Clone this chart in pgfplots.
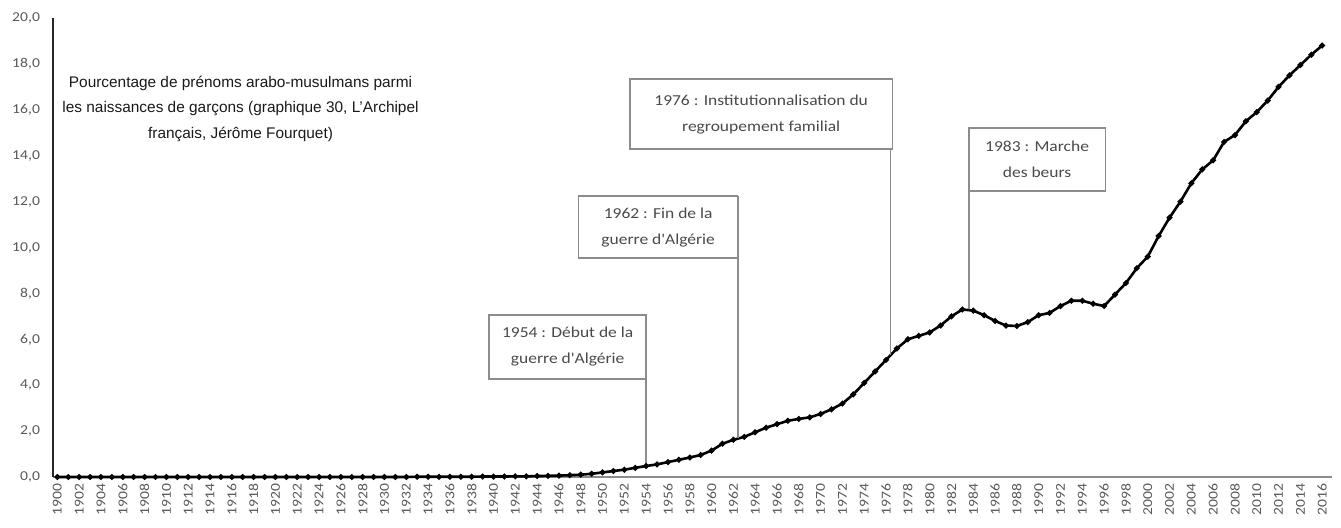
\documentclass[border=0pt]{standalone}
\usepackage{pgfplots}
\pgfplotsset{compat=1.18}
\usepackage{fontspec}
\setmainfont{Liberation Sans}
\newfontfamily\annfont[FakeStretch=1.15]{Carlito}
\definecolor{boxgray}{HTML}{8C8C8C}
\definecolor{txtgray}{HTML}{4A4A4A}
\definecolor{tickgray}{HTML}{595959}
\pgfplotstableread{
year val
1900 0.00
1901 0.00
1902 0.00
1903 0.00
1904 0.00
1905 0.00
1906 0.00
1907 0.00
1908 0.00
1909 0.00
1910 0.00
1911 0.00
1912 0.00
1913 0.00
1914 0.00
1915 0.00
1916 0.00
1917 0.00
1918 0.00
1919 0.00
1920 0.00
1921 0.00
1922 0.00
1923 0.00
1924 0.00
1925 0.00
1926 0.00
1927 0.00
1928 0.00
1929 0.00
1930 0.00
1931 0.00
1932 0.00
1933 0.01
1934 0.01
1935 0.01
1936 0.01
1937 0.01
1938 0.01
1939 0.02
1940 0.02
1941 0.02
1942 0.03
1943 0.03
1944 0.04
1945 0.05
1946 0.06
1947 0.08
1948 0.10
1949 0.14
1950 0.20
1951 0.26
1952 0.32
1953 0.40
1954 0.48
1955 0.55
1956 0.65
1957 0.75
1958 0.85
1959 0.96
1960 1.15
1961 1.45
1962 1.62
1963 1.75
1964 1.95
1965 2.15
1966 2.30
1967 2.45
1968 2.53
1969 2.60
1970 2.75
1971 2.95
1972 3.20
1973 3.60
1974 4.10
1975 4.60
1976 5.10
1977 5.60
1978 6.00
1979 6.15
1980 6.30
1981 6.60
1982 7.00
1983 7.30
1984 7.25
1985 7.05
1986 6.80
1987 6.60
1988 6.58
1989 6.75
1990 7.05
1991 7.15
1992 7.45
1993 7.68
1994 7.68
1995 7.55
1996 7.45
1997 7.95
1998 8.45
1999 9.10
2000 9.60
2001 10.50
2002 11.30
2003 12.00
2004 12.80
2005 13.40
2006 13.80
2007 14.60
2008 14.90
2009 15.50
2010 15.90
2011 16.40
2012 17.00
2013 17.50
2014 17.95
2015 18.40
2016 18.80
}\datatable
\begin{document}
\begin{tikzpicture}
\path[use as bounding box] (0,0) rectangle (670.5pt,263.5pt);
\begin{axis}[
  at={(26.5pt,25pt)}, anchor=south west,
  width=639.5pt, height=229.5pt, scale only axis,
  xmin=1899.6, xmax=2016.9, ymin=0, ymax=20,
  axis lines=left,
  x axis line style={-, draw=boxgray, line width=0.9pt},
  y axis line style={-, draw=black!85, line width=0.9pt},
  major tick length=0pt,
  ytick={0,2,...,20},
  xtick={1900,1902,...,2016},
  /pgf/number format/assume math mode=true,
  yticklabel style={font=\annfont\fontsize{6.8}{8}\selectfont, text=tickgray, xshift=-3pt,
    /pgf/number format/.cd, fixed, fixed zerofill, precision=1, use comma},
  xticklabel style={font=\annfont\fontsize{6.8}{8}\selectfont, text=tickgray, rotate=90, anchor=east,
    /pgf/number format/.cd, 1000 sep={}},
  clip=false,
]
\addplot[black, line width=1.3pt, mark=*, mark size=0.7pt] table[x=year, y=val] {\datatable};

\node[align=center, text=black!90, font=\fontsize{7.7}{12.7}\selectfont] at (axis cs:1916.8,16.05)
  {Pourcentage de prénoms arabo-musulmans parmi\\les naissances de garçons (graphique 30, L'Archipel\\français, Jérôme Fourquet)};

\tikzset{annbox/.style={draw=boxgray, line width=0.7pt, fill=white},
         annline/.style={draw=boxgray, line width=0.9pt},
         anntext/.style={align=center, text=txtgray, font=\annfont\fontsize{7.6}{13}\selectfont}}
% 1954
\draw[annline] (axis cs:1954,7.06) -- (axis cs:1954,0.48);
\draw[annbox] (axis cs:1939.6,4.27) rectangle (axis cs:1954,7.06);
\node[anntext] at (axis cs:1946.8,5.665) {1954 : Début de la\\guerre d'Algérie};
% 1962
\draw[annline] (axis cs:1962.4,12.24) -- (axis cs:1962.4,1.68);
\draw[annbox] (axis cs:1947.8,9.54) rectangle (axis cs:1962.4,12.24);
\node[anntext] at (axis cs:1955.1,10.89) {1962 : Fin de la\\guerre d'Algérie};
% 1976
\draw[annline] (axis cs:1976.4,17.34) -- (axis cs:1976.4,5.3);
\draw[annbox] (axis cs:1952.5,14.29) rectangle (axis cs:1976.6,17.34);
\node[anntext] at (axis cs:1964.55,15.815) {1976 : Institutionnalisation du\\regroupement familial};
% 1983
\draw[annline] (axis cs:1983.6,15.2) -- (axis cs:1983.6,7.32);
\draw[annbox] (axis cs:1983.6,12.46) rectangle (axis cs:1996.1,15.2);
\node[anntext] at (axis cs:1989.85,13.83) {1983 : Marche\\des beurs};
\end{axis}
\end{tikzpicture}
\end{document}
